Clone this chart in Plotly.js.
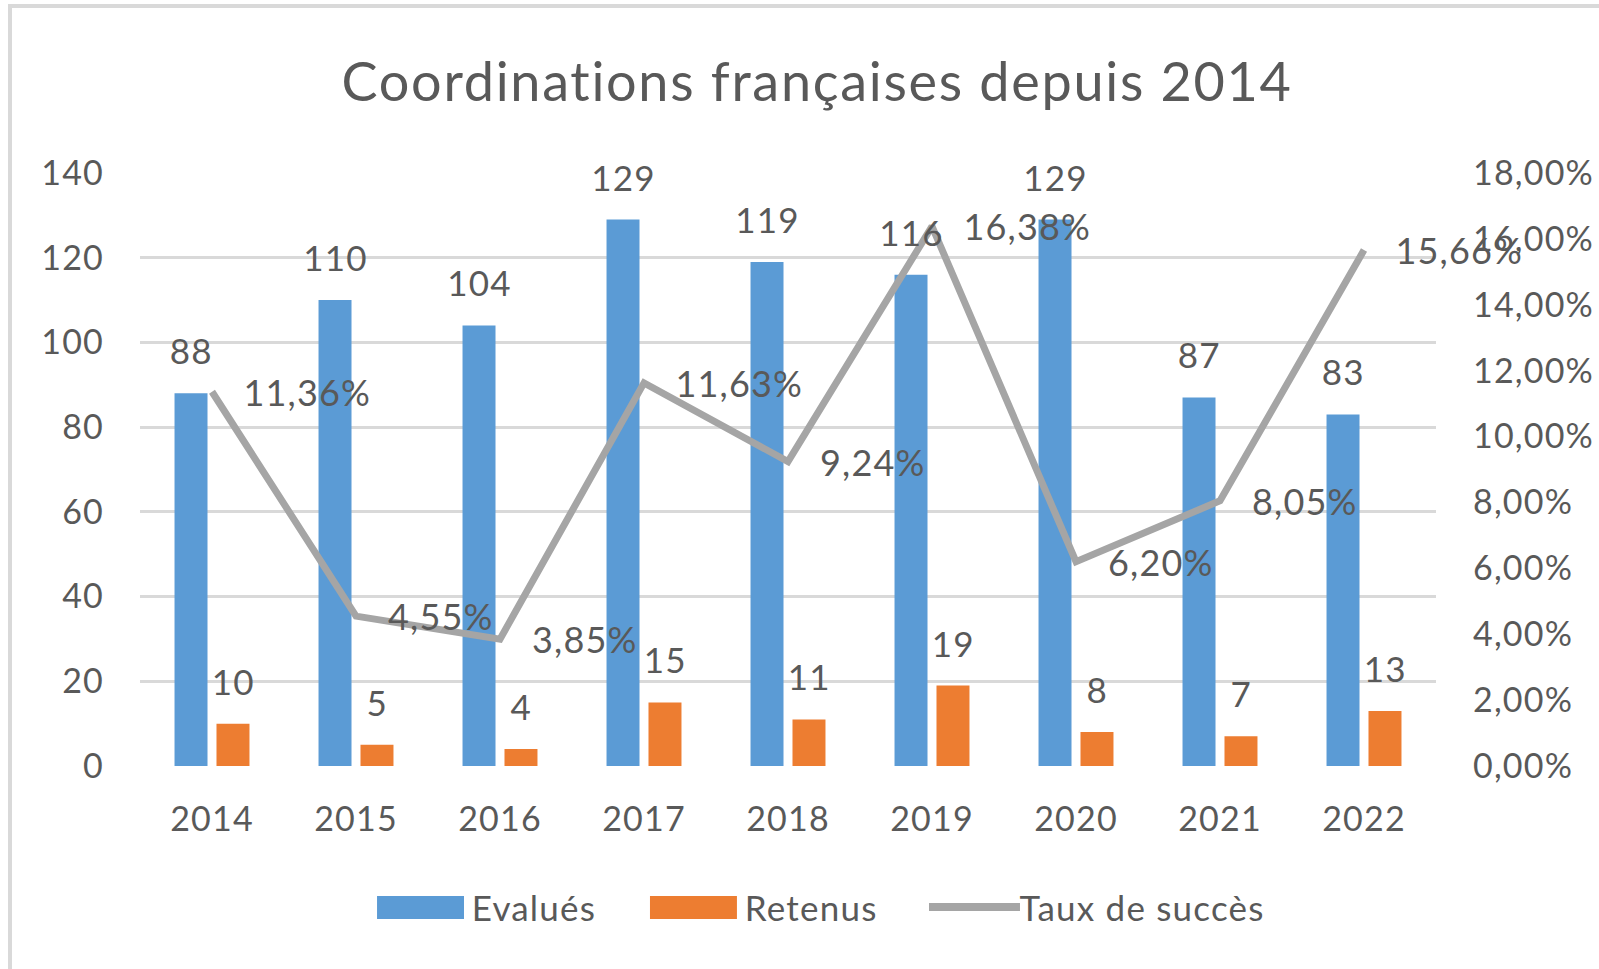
<!DOCTYPE html>
<html>
<head>
<meta charset="utf-8">
<script src="https://cdn.plot.ly/plotly-3.0.1.min.js"></script>
<style>
  html, body { margin: 0; padding: 0; background: #ffffff; }
  #chart { position: absolute; left: 0; top: 0; width: 1599px; height: 969px; }
  #chart svg text { letter-spacing: 1.2px; }
  #chart svg .gtitle { letter-spacing: 1.7px; }
  #frame { position: absolute; left: 8px; top: 4px; width: 1600px; height: 980px;
           border-left: 4px solid #d9d9d9; border-top: 4px solid #d9d9d9; pointer-events: none; }
</style>
</head>
<body>
<div id="chart"></div>
<div id="frame"></div>
<script>
const years = ['2014', '2015', '2016', '2017', '2018', '2019', '2020', '2021', '2022'];
const evalues = [88, 110, 104, 129, 119, 116, 129, 87, 83];
const retenus = [10, 5, 4, 15, 11, 19, 8, 7, 13];
const tauxSucces = [11.36, 4.55, 3.85, 11.63, 9.24, 16.38, 6.20, 8.05, 15.66];
const leftTicks = [0, 20, 40, 60, 80, 100, 120, 140];
const seriesNames = ['Evalués', 'Retenus', 'Taux de succès'];

const FONT = 'Lato, "Open Sans", sans-serif';
const TXT = '#595959';
const BLUE = '#5b9bd5';
const ORANGE = '#ed7d31';
const GREY = '#a5a5a5';

const fmtPct = v => v.toFixed(2).replace('.', ',') + '%';

const traces = [
  {
    type: 'bar', name: seriesNames[0], x: years, y: evalues,
    marker: { color: BLUE }, hoverinfo: 'x+y'
  },
  {
    type: 'bar', name: seriesNames[1], x: years, y: retenus,
    marker: { color: ORANGE }, hoverinfo: 'x+y'
  },
  {
    type: 'scatter', name: seriesNames[2], x: years, y: tauxSucces, yaxis: 'y2',
    mode: 'lines',
    line: { color: GREY, width: 7 },
    text: tauxSucces.map(fmtPct),
    hoverinfo: 'x+text'
  }
];

const annotations = [];
years.forEach((yr, i) => {
  annotations.push({ x: i, y: evalues[i], xref: 'x', yref: 'y', text: String(evalues[i]),
    showarrow: false, xshift: -21, yshift: 43, yanchor: 'middle',
    font: { family: FONT, size: 35, color: TXT } });
  annotations.push({ x: i, y: retenus[i], xref: 'x', yref: 'y', text: String(retenus[i]),
    showarrow: false, xshift: 21, yshift: 43, yanchor: 'middle',
    font: { family: FONT, size: 35, color: TXT } });
  annotations.push({ x: i, y: tauxSucces[i], xref: 'x', yref: 'y2', text: fmtPct(tauxSucces[i]),
    showarrow: false, xanchor: 'left', xshift: 33, yshift: 0, yanchor: 'middle',
    font: { family: FONT, size: 36, color: TXT } });
});

// Custom legend (paper coordinates)
const legY = -0.2378;
const legendShapes = [
  { type: 'rect', xref: 'paper', yref: 'paper', x0: 0.1829, x1: 0.2500, y0: -0.2580, y1: -0.2192,
    fillcolor: BLUE, line: { width: 0 } },
  { type: 'rect', xref: 'paper', yref: 'paper', x0: 0.3935, x1: 0.4606, y0: -0.2580, y1: -0.2192,
    fillcolor: ORANGE, line: { width: 0 } },
  { type: 'line', xref: 'paper', yref: 'paper', x0: 0.6088, x1: 0.6790, y0: legY, y1: legY,
    line: { color: GREY, width: 8 } }
];
const legendTextX = [0.2577, 0.4684, 0.6836];
seriesNames.forEach((n, i) => {
  annotations.push({ x: legendTextX[i], y: legY, xref: 'paper', yref: 'paper', text: n,
    showarrow: false, xanchor: 'left', yanchor: 'middle',
    font: { family: FONT, size: 35, color: TXT } });
});

const layout = {
  width: 1599, height: 969,
  margin: { l: 140, r: 163, t: 173, b: 203 },
  paper_bgcolor: '#ffffff', plot_bgcolor: '#ffffff',
  separators: ', ',
  font: { family: FONT, size: 34, color: TXT },
  title: {
    text: 'Coordinations françaises depuis 2014',
    font: { family: FONT, size: 54, color: TXT },
    x: 0.511, xanchor: 'center', y: 0.915, yanchor: 'middle'
  },
  barmode: 'group', bargap: 0.417, bargroupgap: 0.214,
  showlegend: false,
  xaxis: {
    type: 'category', range: [-0.5, 8.5], showgrid: false, zeroline: false, showline: false, ticks: '',
    ticklabelstandoff: 30, tickfont: { family: FONT, size: 34, color: TXT }
  },
  yaxis: {
    range: [0, 140], tickvals: leftTicks, showgrid: true, gridcolor: '#d9d9d9', gridwidth: 3,
    zeroline: false, showline: false, ticks: '', ticklabelstandoff: 35,
    tickfont: { family: FONT, size: 34, color: TXT }, fixedrange: true
  },
  yaxis2: {
    overlaying: 'y', side: 'right', range: [0, 18], dtick: 2, tickformat: '.2f', ticksuffix: '%',
    showgrid: false, zeroline: false, showline: false, ticks: '', ticklabelstandoff: 36,
    tickfont: { family: FONT, size: 34, color: TXT }, fixedrange: true
  },
  shapes: legendShapes,
  annotations: annotations
};

Plotly.newPlot('chart', traces, layout, { displayModeBar: false, responsive: false });
</script>
</body>
</html>
